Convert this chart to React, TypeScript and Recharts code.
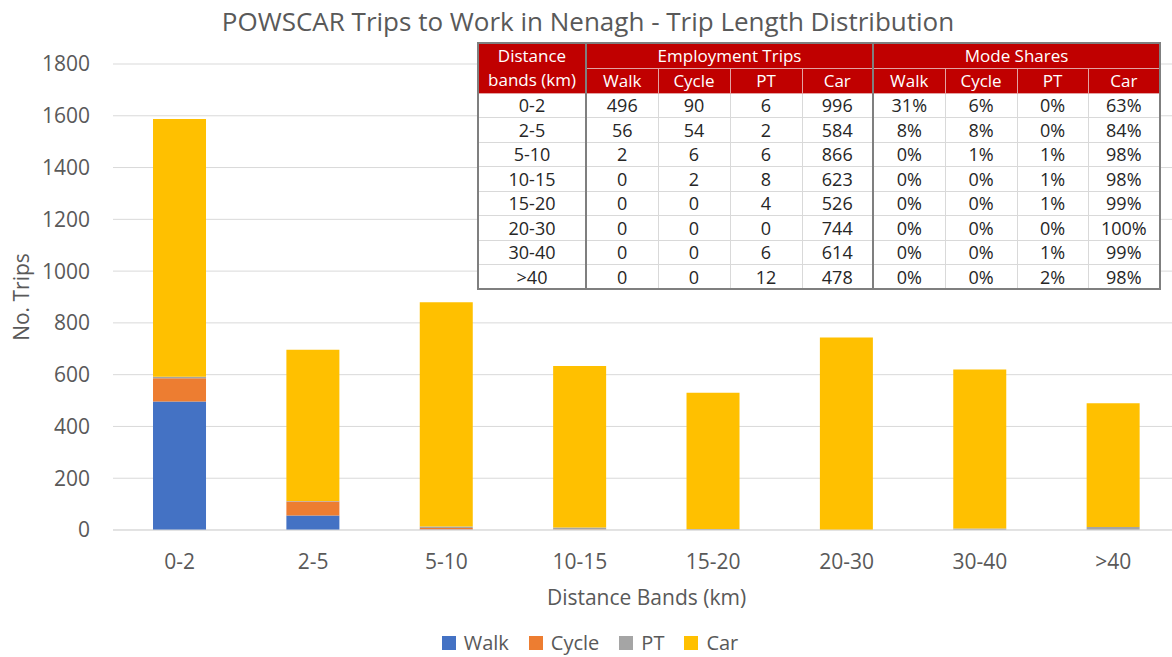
import React from 'react';
import { BarChart, Bar, XAxis, YAxis, CartesianGrid, Legend, Label } from 'recharts';

// ---------------------------------------------------------------------------
// Data (read from the reference table / bars)
// ---------------------------------------------------------------------------

const bands = ['0-2', '2-5', '5-10', '10-15', '15-20', '20-30', '30-40', '>40'];

const walkTrips = [496, 56, 2, 0, 0, 0, 0, 0];
const cycleTrips = [90, 54, 6, 2, 0, 0, 0, 0];
const ptTrips = [6, 2, 6, 8, 4, 0, 6, 12];
const carTrips = [996, 584, 866, 623, 526, 744, 614, 478];

const walkShare = [31, 8, 0, 0, 0, 0, 0, 0];
const cycleShare = [6, 8, 1, 0, 0, 0, 0, 0];
const ptShare = [0, 0, 1, 1, 1, 0, 1, 2];
const carShare = [63, 84, 98, 98, 99, 100, 99, 98];

const yTicks = [0, 200, 400, 600, 800, 1000, 1200, 1400, 1600, 1800];

const series = [
  { key: 'walk', name: 'Walk', color: '#4472C4' },
  { key: 'cycle', name: 'Cycle', color: '#ED7D31' },
  { key: 'pt', name: 'PT', color: '#A5A5A5' },
  { key: 'car', name: 'Car', color: '#FFC000' },
];

const chartData = bands.map((band, i) => ({
  band,
  walk: walkTrips[i],
  cycle: cycleTrips[i],
  pt: ptTrips[i],
  car: carTrips[i],
}));

const FONT = '"Open Sans", "Noto Sans", sans-serif';
const TEXT = '#595959';
const GRID = '#D9D9D9';
const RED = '#C00000';

// ---------------------------------------------------------------------------
// Helpers
// ---------------------------------------------------------------------------

const LegendContent = () => (
  <div
    style={{
      display: 'flex',
      justifyContent: 'center',
      alignItems: 'center',
      gap: 20,
      height: 28,
      lineHeight: '28px',
      fontFamily: FONT,
      fontSize: 20,
      color: TEXT,
    }}
  >
    {series.map((s) => (
      <span key={s.key} style={{ display: 'flex', alignItems: 'center' }}>
        <span style={{ width: 14, height: 14, background: s.color, marginRight: 8 }} />
        {s.name}
      </span>
    ))}
  </div>
);

const headCell: React.CSSProperties = {
  background: RED,
  color: '#fff',
  fontSize: 17,
  fontWeight: 400,
  padding: 0,
  textAlign: 'center',
  border: '1px solid #E3A3A3',
  lineHeight: '20px',
};

const bodyCell: React.CSSProperties = {
  color: '#262626',
  fontSize: 18,
  padding: 0,
  textAlign: 'center',
  border: '1px solid #D9D9D9',
  lineHeight: '20px',
};

const DARK = '2px solid #7F7F7F';

const TripTable = () => (
  <table
    style={{
      position: 'absolute',
      left: 477,
      top: 42,
      width: 684,
      height: 248,
      borderCollapse: 'collapse',
      tableLayout: 'fixed',
      background: '#fff',
      fontFamily: FONT,
      border: DARK,
    }}
  >
    <colgroup>
      <col style={{ width: 108 }} />
      <col style={{ width: 72 }} />
      <col style={{ width: 72 }} />
      <col style={{ width: 72 }} />
      <col style={{ width: 71 }} />
      <col style={{ width: 72 }} />
      <col style={{ width: 72 }} />
      <col style={{ width: 71 }} />
      <col style={{ width: 72 }} />
    </colgroup>
    <thead>
      <tr style={{ height: 25 }}>
        <th rowSpan={2} style={{ ...headCell, lineHeight: '24px', borderRight: DARK }}>
          Distance
          <br />
          bands (km)
        </th>
        <th colSpan={4} style={{ ...headCell, borderRight: DARK }}>
          Employment Trips
        </th>
        <th colSpan={4} style={headCell}>
          Mode Shares
        </th>
      </tr>
      <tr style={{ height: 25 }}>
        {series.map((s, i) => (
          <th key={'e' + s.key} style={i === 3 ? { ...headCell, borderRight: DARK } : headCell}>
            {s.name}
          </th>
        ))}
        {series.map((s) => (
          <th key={'m' + s.key} style={headCell}>
            {s.name}
          </th>
        ))}
      </tr>
    </thead>
    <tbody>
      {bands.map((band, i) => (
        <tr key={band} style={{ height: 24.5 }}>
          <td style={{ ...bodyCell, borderRight: DARK }}>{band}</td>
          <td style={bodyCell}>{walkTrips[i]}</td>
          <td style={bodyCell}>{cycleTrips[i]}</td>
          <td style={bodyCell}>{ptTrips[i]}</td>
          <td style={{ ...bodyCell, borderRight: DARK }}>{carTrips[i]}</td>
          <td style={bodyCell}>{walkShare[i]}%</td>
          <td style={bodyCell}>{cycleShare[i]}%</td>
          <td style={bodyCell}>{ptShare[i]}%</td>
          <td style={bodyCell}>{carShare[i]}%</td>
        </tr>
      ))}
    </tbody>
  </table>
);

// ---------------------------------------------------------------------------
// Main
// ---------------------------------------------------------------------------

export default function App() {
  return (
    <div
      style={{
        position: 'relative',
        width: 1172,
        height: 657,
        overflow: 'hidden',
        background: '#fff',
        fontFamily: FONT,
      }}
    >
      <style>{'body{margin:0}'}</style>
      <div
        style={{
          position: 'absolute',
          top: 4,
          left: 0,
          width: 1176,
          height: 34,
          lineHeight: '34px',
          textAlign: 'center',
          fontSize: 26,
          color: TEXT,
          zIndex: 2,
        }}
      >
        POWSCAR Trips to Work in Nenagh - Trip Length Distribution
      </div>
      <BarChart
        width={1185}
        height={657}
        data={chartData}
        margin={{ top: 64, right: 5, bottom: 0, left: 0 }}
        barCategoryGap="30%"
      >
        <CartesianGrid vertical={false} stroke={GRID} />
        <XAxis
          dataKey="band"
          height={99}
          axisLine={{ stroke: GRID }}
          tickLine={false}
          tickMargin={18}
          tick={{ fill: TEXT, fontSize: 21, fontFamily: FONT }}
        >
          <Label
            content={({ viewBox }: any) => (
              <text
                x={viewBox.x + viewBox.width / 2}
                y={viewBox.y + 68}
                dy="0.35em"
                textAnchor="middle"
                fill={TEXT}
                fontSize={21}
                fontFamily={FONT}
              >
                Distance Bands (km)
              </text>
            )}
          />
        </XAxis>
        <YAxis
          width={113}
          domain={[0, 1800]}
          ticks={yTicks}
          axisLine={false}
          tickLine={false}
          tickMargin={17}
          tick={{ fill: TEXT, fontSize: 21, fontFamily: FONT }}
        >
          <Label
            content={({ viewBox }: any) => {
              const cx = viewBox.x + 22;
              const cy = viewBox.y + viewBox.height / 2;
              return (
                <text
                  x={cx}
                  y={cy}
                  dy="0.35em"
                  textAnchor="middle"
                  transform={`rotate(-90, ${cx}, ${cy})`}
                  fill={TEXT}
                  fontSize={21}
                  fontFamily={FONT}
                >
                  No. Trips
                </text>
              );
            }}
          />
        </YAxis>
        <Legend verticalAlign="bottom" content={<LegendContent />} />
        {series.map((s) => (
          <Bar
            key={s.key}
            dataKey={s.key}
            name={s.name}
            stackId="trips"
            fill={s.color}
            isAnimationActive={false}
          />
        ))}
      </BarChart>
      <TripTable />
    </div>
  );
}
